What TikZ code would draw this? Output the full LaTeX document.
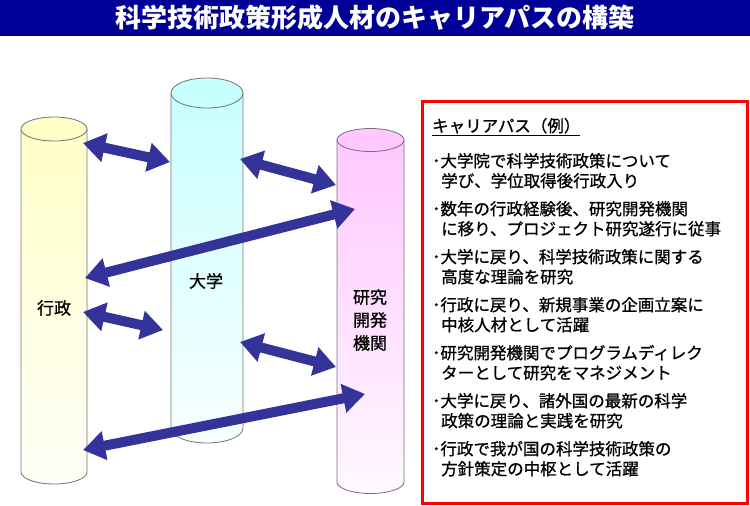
\documentclass[tikz,border=0pt]{standalone}
\usepackage{fontspec}
\setmainfont{Noto Sans CJK JP}
\newfontfamily\medfont{Noto Sans CJK JP}[FakeBold=0.9]
\usetikzlibrary{arrows.meta}

\definecolor{titleblue}{RGB}{0,0,150}
\definecolor{arrowblue}{RGB}{51,51,153}
\definecolor{gyousei}{RGB}{255,255,200}
\definecolor{daigaku}{RGB}{200,255,255}
\definecolor{kenkyu}{RGB}{255,200,255}

\tikzset{
  link/.style={arrowblue, line width=10pt,
    {Triangle[length=22pt,width=28pt]}-{Triangle[length=22pt,width=28pt]}},
  pillar/.style={draw=black!55, line width=0.8pt},
  lab/.style={font=\medfont\fontsize{17}{23}\selectfont, inner sep=0pt, align=center},
  item/.style={font=\medfont\fontsize{16.5}{20}\selectfont, anchor=base west, inner sep=0pt},
}

% cylinder: centre x, top y, bottom y, x radius, y radius, colour
\newcommand{\drawcyl}[6]{%
  \path[pillar, top color=#6, bottom color=#6!12]
    (#1-#4,#2) -- (#1-#4,#3) arc[start angle=180, end angle=0, x radius=#4, y radius=#5]
    -- (#1+#4,#2) -- cycle;
  \draw[pillar, fill=#6] (#1,#2) ellipse[x radius=#4, y radius=#5];
}

\begin{document}
\begin{tikzpicture}[x=1pt, y=-1pt]
    \useasboundingbox (0,0) rectangle (750,506);
    \fill[titleblue] (0,0) rectangle (750,36);
    \node[text=white, font=\bfseries\fontsize{26}{26}\selectfont] (title) at (375,18)
      {科学技術政策形成人材のキャリアパスの構築};

    % the three pillars
    \drawcyl{54}{129}{472}{33}{12}{gyousei}
    \drawcyl{207}{93}{428}{36}{15}{daigaku}
    \drawcyl{370.5}{140}{482}{33.5}{11.5}{kenkyu}
    \node[lab] (gylab) at (54,308) {行政};
    \node[lab] (dglab) at (206,281) {大学};
    \node[lab] (kklab) at (370,320) {研究\\開発\\機関};

    % arrow ends
    \coordinate (gy1) at (83,143);  \coordinate (dg1) at (170,162);
    \coordinate (dg2) at (240,159); \coordinate (kk2) at (336,185);
    \coordinate (gy3) at (85,278);  \coordinate (kk3) at (355,209);
    \coordinate (gy4) at (83,312);  \coordinate (dg4) at (163,330);
    \coordinate (dg5) at (240,342); \coordinate (kk5) at (336,367);
    \coordinate (gy6) at (83,450);  \coordinate (kk6) at (365,394);
    \draw[link] (gy1) -- (dg1);
    \draw[link] (dg2) -- (kk2);
    \draw[link] (gy3) -- (kk3);
    \draw[link] (gy4) -- (dg4);
    \draw[link] (dg5) -- (kk5);
    \draw[link] (gy6) -- (kk6);

    % career path box
    \draw[red, line width=3pt, fill=white] (422,101) rectangle (747.5,503);
    \node[item] (head) at (432,132) {\underline{キャリアパス（例）}};
    \foreach \la/\lb [count=\i from 0] in {
      大学院で科学技術政策について/学び、学位取得後行政入り,
      数年の行政経験後、研究開発機関/に移り、プロジェクト研究遂行に従事,
      大学に戻り、科学技術政策に関する/高度な理論を研究,
      行政に戻り、新規事業の企画立案に/中核人材として活躍,
      研究開発機関でプログラムディレク/ターとして研究をマネジメント,
      大学に戻り、諸外国の最新の科学/政策の理論と実践を研究,
      行政で我が国の科学技術政策の/方針策定の中枢として活躍}
    {
      \node[item] (step\i a) at (432,167+48*\i) {･\la};
      \node[item] (step\i b) at (441,187+48*\i) {\lb};
    }
\end{tikzpicture}
\end{document}
